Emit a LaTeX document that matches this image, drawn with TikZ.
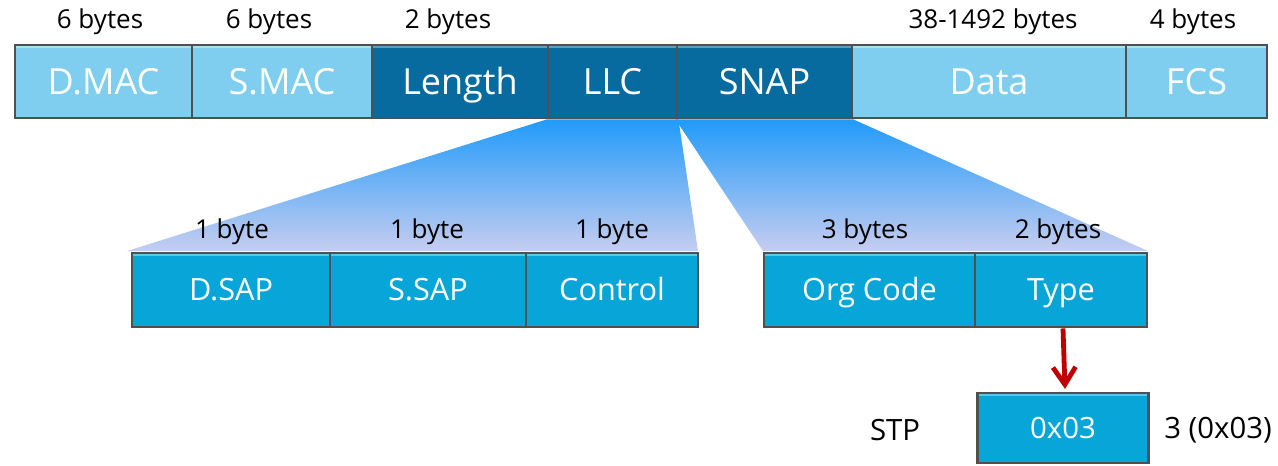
\documentclass[tikz,border=0pt]{standalone}
\usepackage{fontspec}
\setmainfont{Open Sans}
\usetikzlibrary{arrows.meta}
\definecolor{lblue}{RGB}{127,206,239}
\definecolor{dblue}{RGB}{7,107,160}
\definecolor{mblue}{RGB}{8,166,216}
\definecolor{edgegray}{RGB}{80,80,80}
\definecolor{fantop}{RGB}{33,155,250}
\definecolor{fanbot}{RGB}{198,205,240}
\definecolor{arrred}{RGB}{192,0,0}
\tikzset{
  fld/.style={draw=edgegray, line width=2.2pt, text=white, inner sep=0pt,
    path picture={\draw[white,opacity=0.35,line width=2.5pt]
      ([yshift=-1.3pt]path picture bounding box.north west) --
      ([yshift=-1.3pt]path picture bounding box.north east);}},
  toprow/.style={fld, minimum height=54.75pt, text height=19.3pt, text depth=0pt,
    font=\fontsize{27}{30}\selectfont},
  subrow/.style={fld, minimum height=55.5pt, text height=16.4pt, text depth=0pt,
    font=\fontsize{23}{26}\selectfont},
  valbox/.style={fld, minimum height=52.5pt, text height=15.7pt, text depth=0pt,
    font=\fontsize{22}{25}\selectfont},
  lbl/.style={inner sep=0pt, text=black, font=\fontsize{19.5}{22}\selectfont},
  side/.style={inner sep=0pt, text=black, font=\fontsize{22}{25}\selectfont},
  fan/.style={top color=fantop, bottom color=fanbot, draw=none},
}
\begin{document}
\begin{tikzpicture}[x=0.75pt,y=-0.75pt]
\useasboundingbox (0,0) rectangle (1278,465);
% top row
\node[toprow, fill=lblue, minimum width=132.75pt] (dmac) at (103.5,81.5) {D.MAC};
\node[toprow, fill=lblue, minimum width=135pt] (smac) at (282,81.5) {S.MAC};
\node[toprow, fill=dblue, minimum width=132pt] (len) at (460,81.5) {Length};
\node[toprow, fill=dblue, minimum width=96.75pt] (llc) at (612.5,81.5) {LLC};
\node[toprow, fill=dblue, minimum width=131.25pt] (snap) at (764.5,81.5) {SNAP};
\node[toprow, fill=lblue, minimum width=205.5pt] (data) at (989,81.5) {Data};
\node[toprow, fill=lblue, minimum width=105.75pt] (fcs) at (1196.5,81.5) {FCS};
% top labels
\node[lbl] (l1) at (100,22) {6 bytes};
\node[lbl] (l2) at (269,22) {6 bytes};
\node[lbl] (l3) at (448,22) {2 bytes};
\node[lbl] (l4) at (993,22) {38-1492 bytes};
\node[lbl] (l5) at (1193,22) {4 bytes};
% fan end points
\coordinate (llcfanL) at (127,251);
\coordinate (llcfanR) at (698,251);
\coordinate (snapfanL) at (763,251);
\coordinate (snapfanR) at (1148,251);
% fans
\shade[fan] (llc.south west) -- (llc.south east) -- (llcfanR) -- (llcfanL) -- cycle;
\shade[fan] (snap.south west) -- (snap.south east) -- (snapfanR) -- (snapfanL) -- cycle;
% second row
\node[subrow, fill=mblue, minimum width=148.5pt] (dsap) at (231,290) {D.SAP};
\node[subrow, fill=mblue, minimum width=147pt] (ssap) at (428,290) {S.SAP};
\node[subrow, fill=mblue, minimum width=129pt] (ctrl) at (612,290) {Control};
\node[subrow, fill=mblue, minimum width=158.25pt] (org) at (869.5,290) {Org Code};
\node[subrow, fill=mblue, minimum width=129pt] (type) at (1061,290) {Type};
% second labels
\node[lbl] (s1) at (232,232) {1 byte};
\node[lbl] (s2) at (427,232) {1 byte};
\node[lbl] (s3) at (612,232) {1 byte};
\node[lbl] (s4) at (865,232) {3 bytes};
\node[lbl] (s5) at (1058,232) {2 bytes};
% third row
\node[valbox, fill=mblue, minimum width=128.25pt] (val) at (1063,428) {0x03};
\node[side] (stp) at (895,430) {STP};
\node[side] (num) at (1218,430) {3 (0x03)};
\draw[arrred, line width=3.6pt, -{Straight Barb[length=13pt,width=17pt,line width=3.6pt]}]
  ([xshift=1.5pt]type.south) -- ([xshift=1.5pt,yshift=2pt]val.north);
\end{tikzpicture}
\end{document}
